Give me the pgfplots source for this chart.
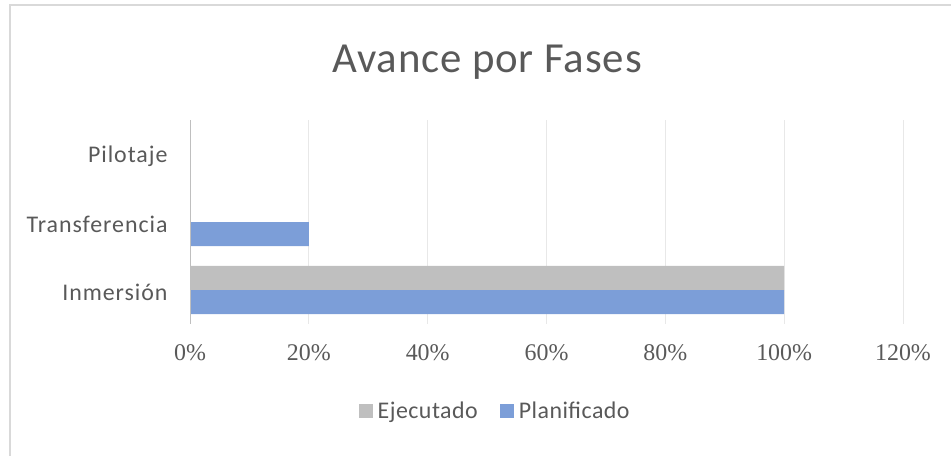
\documentclass[border=0pt]{standalone}
\usepackage{fontspec}
\setmainfont{Carlito}
\newfontfamily\catfont[LetterSpace=4]{Carlito}
\newfontfamily\titlefont[LetterSpace=2]{Carlito}
\newfontfamily\legfont[LetterSpace=2]{Carlito}
\newfontfamily\tickfont{Liberation Serif}
\usepackage{pgfplots}
\pgfplotsset{compat=1.18}
\definecolor{ejec}{HTML}{BFBFBF}
\definecolor{plan}{HTML}{7C9ED8}
\definecolor{txt}{HTML}{595959}
\definecolor{gridc}{HTML}{E8E8E8}
\definecolor{framec}{HTML}{D9D9D9}
\begin{document}
\begin{tikzpicture}
\path[use as bounding box] (0bp,0bp) rectangle (951bp,456bp);
\draw[framec, line width=1.5bp] (10bp,0bp) -- (10bp,451bp) -- (951bp,451bp);
\node[txt, font=\titlefont\fontsize{43}{50}\selectfont] at (487bp,394bp) {Avance por Fases};
\begin{axis}[
  at={(190bp,132bp)}, anchor=south west,
  scale only axis, width=713bp, height=204bp,
  xbar, bar width=24bp,
  xmin=0, xmax=120, ymin=-0.5, ymax=2.5,
  xtick={0,20,40,60,80,100,120},
  xticklabels={0\%,20\%,40\%,60\%,80\%,100\%,120\%},
  ytick={0,1,2},
  yticklabels={Inmersión,Transferencia,Pilotaje},
  major tick length=0pt,
  xmajorgrids, grid style={gridc, line width=1bp},
  axis line style={draw=none},
  xticklabel style={font=\tickfont\fontsize{24}{24}\selectfont, text=txt, yshift=-17bp},
  yticklabel style={font=\catfont\fontsize{24}{24}\selectfont, text=txt, xshift=-19bp, yshift=-2bp},
  legend style={at={(0.428,-0.426)}, anchor=center, draw=none, fill=none,
    legend columns=2, font=\legfont\fontsize{24}{24}\selectfont, text=txt,
    /tikz/every even column/.append style={column sep=20bp}},
  legend image code/.code={\fill[#1] (0bp,-7bp) rectangle (14bp,7bp);},
]
\addplot[fill=ejec, draw=none, bar shift=12bp] coordinates {(100,0) (0,1) (0,2)};
\addplot[fill=plan, draw=none, bar shift=-12bp] coordinates {(100,0) (20,1) (0,2)};
\legend{\hspace{3bp}Ejecutado, \hspace{3bp}Planificado}
\draw[ejec, line width=2.5bp] (rel axis cs:0,0) -- (rel axis cs:0,1);
\end{axis}
\end{tikzpicture}
\end{document}
